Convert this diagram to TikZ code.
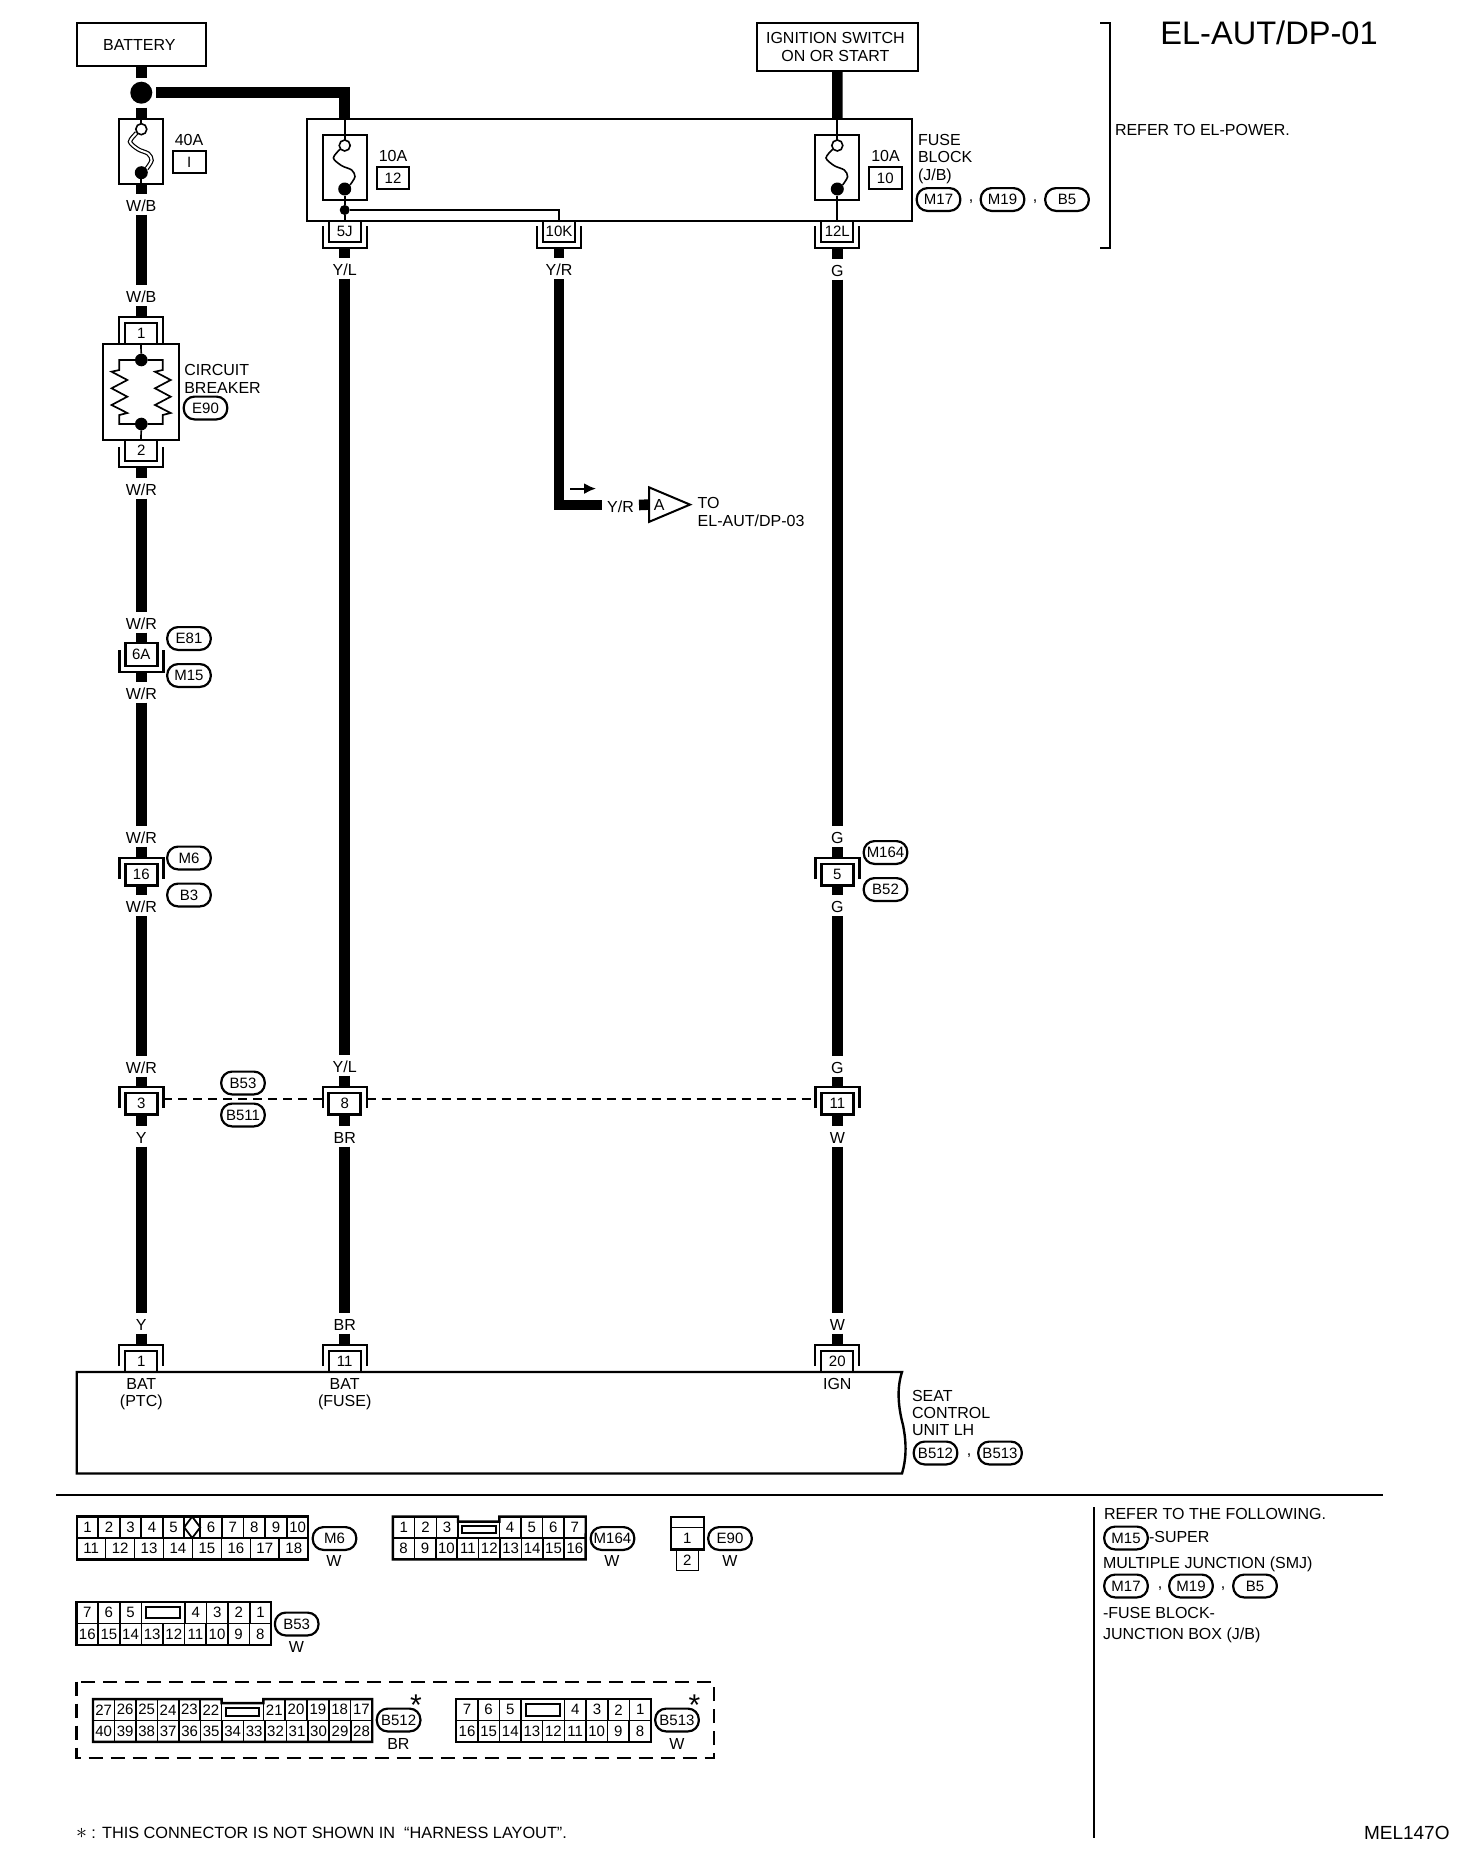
\documentclass[tikz,border=0pt]{standalone}
\usepackage{fontspec}
\setmainfont{Liberation Sans}
\usetikzlibrary{arrows.meta,positioning,shapes.geometric,fit,calc}

% connector with the hood on top
\newcommand{\connfem}[6]{%
  \node[pinbox, minimum height=#4, anchor=north] (#1) at (#2,#3+6) {#6};
  \draw[bracket] (#2-22,#3+#5) -- (#2-22,#3) -- (#2+22,#3) -- (#2+22,#3+#5);
  \coordinate (#1-t) at (#2,#3);
  \coordinate (#1-l) at (#2-22,#3+12);
  \coordinate (#1-r) at (#2+22,#3+12);
}
% connector with the hood below
\newcommand{\connmale}[6]{%
  \node[pinbox, minimum height=#4, anchor=south] (#1) at (#2,#3-6) {#6};
  \draw[bracket] (#2-22,#3-#5) -- (#2-22,#3) -- (#2+22,#3) -- (#2+22,#3-#5);
  \coordinate (#1-b) at (#2,#3);
}
\newcommand{\fusebox}[4]{%
  \node[fusecase, anchor=north] (#1) at (#2,#3) {};
  \draw[#4] plot[smooth] coordinates {(#2-4.7,#3+14.3) (#2-11.3,#3+23) (#2-3,#3+30.7) (#2+7,#3+35) (#2+10.3,#3+41.7) (#2+5.3,#3+50)};
  \node[fuseopen] (#1-a) at (#2,#3+10.5) {};
  \node[fusedot] (#1-b) at (#2,#3+54) {};
}
% row of pin cells, first cell's lower left corner at #2
\newcommand{\pinrow}[4]{%
  \foreach \lab [count=\i, remember=\i as \j (initially 0)] in {#4} {
    \ifnum\i=1
      \node[pincell, minimum width=#3, anchor=south west] (#1\i) at (#2) {\lab};
    \else
      \node[pincell, minimum width=#3, anchor=south west] (#1\i) at (#1\j.south east) {\lab};
    \fi
  }
}

\begin{document}
\begin{tikzpicture}[x=0.5pt, y=-0.5pt,
  every node/.style={outer sep=0pt},
  txt/.style={font=\fontsize{8}{8.6}\selectfont, inner sep=0pt, align=left},
  note/.style={txt, anchor=west},
  wlabel/.style={txt, align=center, minimum height=10.5pt, text height=7pt, text depth=0pt},
  box/.style={draw, line width=1pt, fill=white, inner sep=0pt, align=center, font=\fontsize{8}{8.6}\selectfont},
  bubble/.style={draw, line width=1.1pt, rounded corners=5.4pt, minimum width=21.8pt, minimum height=11.4pt, inner sep=0pt, font=\fontsize{7.5}{8}\selectfont},
  pinbox/.style={draw, line width=1pt, fill=white, minimum width=16pt, inner sep=0pt, font=\fontsize{7.5}{8}\selectfont},
  bracket/.style={line width=1pt},
  wire/.style={line width=5.3pt},
  thinline/.style={line width=0.85pt},
  fusecase/.style={draw, line width=1pt, minimum width=22pt, minimum height=32.5pt, inner sep=0pt},
  fuseopen/.style={circle, draw, line width=0.8pt, fill=white, minimum size=5.5pt, inner sep=0pt},
  fusedot/.style={circle, fill=black, minimum size=6.5pt, inner sep=0pt},
  fuseone/.style={line width=0.8pt},
  fusetwo/.style={line width=0.6pt, double, double distance=1pt},
  rateb/.style={draw, line width=1pt, minimum width=16.3pt, minimum height=11pt, inner sep=0pt, font=\fontsize{7.5}{8}\selectfont},
  pincell/.style={draw, line width=0.8pt, minimum height=10.7pt, inner sep=0pt, font=\fontsize{7.5}{8}\selectfont},
  pingap/.style={draw, line width=0.8pt, inner sep=0pt},
  pinslot/.style={draw, line width=1pt, inner sep=0pt},
  pinframe/.style={draw, line width=1.2pt, inner sep=0pt}
]
  \useasboundingbox (0,0) rectangle (1472,1868);

  % Top boxes
  \node[box, minimum width=64.7pt, minimum height=21.5pt] (batt) at (141.3,44.5) {\kern-2pt BATTERY};
  \node[box, minimum width=80.5pt, minimum height=24pt] (ign) at (837.4,47) {\kern-2pt IGNITION SWITCH\\\kern-2pt ON OR START};
  \node[font=\fontsize{16.3}{18}\selectfont, inner sep=0pt] (title) at (1269,33) {EL-AUT/DP-01};
  \coordinate (brA) at (1100,22.7);
  \coordinate (brB) at (1100,248);
  \draw[thinline] (brA) -- (1110,22.7) -- (1110,248) -- (brB);
  \node[note] (refpower) at (1115,130) {REFER TO EL-POWER.};

  % Fuse block
  \node[draw, line width=1pt, minimum width=302.7pt, minimum height=51pt, anchor=north west] (jblock) at (306.7,118.7) {};
  \coordinate (inB) at (344.7,118.7);
  \coordinate (inC) at (837.3,118.7);
  \node[circle, fill=black, minimum size=11pt, inner sep=0pt, outer sep=2pt] (jct) at (141.3,92.7) {};
  \fusebox{fA}{141.3}{118.7}{fusetwo}
  \fusebox{fB}{344.7}{135}{fuseone}
  \fusebox{fC}{837.3}{135}{fuseone}
  \node[txt] (ratA) at (189,140) {40A};
  \node[rateb] (nA) at (189.3,162) {I};
  \node[txt] (ratB) at (393,156) {10A};
  \node[rateb] (nB) at (393,178) {12};
  \node[txt] (ratC) at (885.5,156.4) {10A};
  \node[rateb] (nC) at (885.3,178) {10};
  \node[note] (fbname) at (918,159) {FUSE\\BLOCK\\(J/B)};
  \node[bubble] (fbM17) at (938.5,199.5) {M17};
  \node[txt] (fbc1) at (971,202) {,};
  \node[bubble] (fbM19) at (1002.5,199.5) {M19};
  \node[txt] (fbc2) at (1035,202) {,};
  \node[bubble] (fbB5) at (1067,199.5) {B5};
  \node[circle, fill=black, minimum size=5pt, inner sep=0pt] (jd) at (344.7,210) {};

  % Block terminals
  \connmale{cJ}{344.7}{248}{10.7pt}{22}{5J}
  \connmale{cK}{559}{248}{10.7pt}{22}{10K}
  \connmale{cL}{837.3}{248}{10.7pt}{22}{12L}
  \draw[thinline] (fA.north) -- (fA-a);
  \draw[thinline] (fA-b) -- (fA.south);
  \draw[thinline] (inB) -- (fB-a);
  \draw[thinline] (fB-b) -- (jd) -- (cJ.north);
  \draw[thinline] (jd) -| (cK.north);
  \draw[thinline] (inC) -- (fC-a);
  \draw[thinline] (fC-b) -- (cL.north);

  % Circuit breaker
  \connfem{cOne}{141.3}{317}{10.5pt}{26}{1}
  \node[draw, line width=1pt, minimum width=38.2pt, minimum height=48pt, anchor=north] (cb) at (141,344) {};
  \node[note] (cbname) at (184.3,379) {CIRCUIT\\BREAKER};
  \node[bubble] (cbE90) at (205.5,408) {E90};
  \node[circle, fill=black, minimum size=6.3pt, inner sep=0pt] (cbt) at (141.3,360) {};
  \node[circle, fill=black, minimum size=6.3pt, inner sep=0pt] (cbb) at (141.3,424) {};
  \draw[thinline] (cb.north) -- (cbt);
  \draw[thinline] (cbb) -- (cb.south);
  \foreach \sx in {119.3,162.7} {
    \draw[thinline] (cbt) -- (\sx,360) -- (\sx,370) -- (\sx-7.7,371.7) -- (\sx+8,380) -- (\sx-7.7,388.3)
      -- (\sx+8,396.7) -- (\sx-7.7,405) -- (\sx+8,413) -- (\sx,415) -- (\sx,424) -- (cbb);
  }
  \connmale{cTwo}{141.3}{467}{10.7pt}{20}{2}

  % Inline connectors
  \begin{scope}[pinbox/.append style={line width=1.4pt}, bracket/.append style={line width=1.2pt}]
    \connmale{cSix}{141.3}{672}{11.5pt}{22}{6A}
    \connfem{cSixteen}{141.3}{858}{10.7pt}{21}{16}
    \connfem{cThree}{141.3}{1087}{10.7pt}{21}{3}
    \connfem{cEight}{344.7}{1087}{10.7pt}{21}{8}
    \connfem{cFive}{837.3}{858}{10.7pt}{21}{5}
    \connfem{cEleven}{837.3}{1087}{10.7pt}{21}{11}
  \end{scope}
  \node[bubble] (bE81) at (189,638.5) {E81};
  \node[bubble] (bM15) at (189,675.5) {M15};
  \node[bubble] (bM6) at (189,858) {M6};
  \node[bubble] (bB3) at (189,895) {B3};
  \node[bubble] (bB53) at (243,1083) {B53};
  \node[bubble] (bB511) at (243,1115) {B511};
  \node[bubble] (bM164) at (885.5,852.5) {M164};
  \node[bubble] (bB52) at (885.5,889.5) {B52};
  \draw[line width=1pt, dash pattern=on 4.5pt off 3pt] (cThree-r) -- (cEight-l);
  \draw[line width=1pt, dash pattern=on 4.5pt off 3pt] (cEight-r) -- (cEleven-l);

  % Seat control unit
  \connfem{cUa}{141.3}{1345}{10.5pt}{21}{1}
  \connfem{cUb}{344.7}{1345}{10.5pt}{21}{11}
  \connfem{cUc}{837.3}{1345}{10.5pt}{21}{20}
  \coordinate (unitA) at (76.7,1372);
  \coordinate (unitB) at (902,1372);
  \coordinate (unitC) at (902,1473.5);
  \coordinate (unitD) at (76.7,1473.5);
  \draw[line width=1.2pt, line join=miter] (unitA) -- (unitB) .. controls (896,1390) and (899,1410) .. (903,1425)
    .. controls (907,1445) and (906,1460) .. (unitC) -- (unitD) -- cycle;
  \node[txt, align=center] (pBat) at (141.3,1394) {BAT\\(PTC)};
  \node[txt, align=center] (pFuse) at (344.7,1394) {BAT\\(FUSE)};
  \node[txt] (pIgn) at (837.3,1384) {IGN};
  \node[note] (unitname) at (912,1413) {SEAT\\CONTROL\\UNIT LH};
  \node[bubble] (uB512) at (935.5,1453) {B512};
  \node[txt] (uc) at (969,1456) {,};
  \node[bubble] (uB513) at (1000,1453) {B513};

  % Wire labels
  \node[wlabel] (lA1) at (141.3,204) {W/B};
  \node[wlabel] (lA2) at (141.3,295.5) {W/B};
  \node[wlabel] (lA3) at (141.3,488) {W/R};
  \node[wlabel] (lA4) at (141.3,622) {W/R};
  \node[wlabel] (lA5) at (141.3,692) {W/R};
  \node[wlabel] (lA6) at (141.3,836) {W/R};
  \node[wlabel] (lA7) at (141.3,905.5) {W/R};
  \node[wlabel] (lA8) at (141.3,1066) {W/R};
  \node[wlabel] (lA9) at (141.3,1136) {Y};
  \node[wlabel] (lA10) at (141.3,1323) {Y};
  \node[wlabel] (lB1) at (344.7,268) {Y/L};
  \node[wlabel] (lB2) at (344.7,1065) {Y/L};
  \node[wlabel] (lB3) at (344.7,1136) {BR};
  \node[wlabel] (lB4) at (344.7,1323) {BR};
  \node[wlabel] (lD1) at (559,268.5) {Y/R};
  \node[wlabel, minimum width=18.5pt] (lD2) at (620.5,505) {Y/R};
  \node[wlabel] (lC1) at (837.3,269) {G};
  \node[wlabel] (lC2) at (837.3,836.5) {G};
  \node[wlabel] (lC3) at (837.3,905.5) {G};
  \node[wlabel] (lC4) at (837.3,1066) {G};
  \node[wlabel] (lC5) at (837.3,1136) {W};
  \node[wlabel] (lC6) at (837.3,1323) {W};

  % Wires
  \draw[wire] (batt.south) -- (jct.north);
  \draw[wire] (jct.east) -| (inB);
  \draw[wire] (jct.south) -- (fA.north);
  \draw[wire] (fA.south) -- (lA1.north);
  \draw[wire] (lA1.south) -- (lA2.north);
  \draw[wire] (lA2.south) -- (cOne-t);
  \draw[wire] (cTwo-b) -- (lA3.north);
  \draw[wire] (lA3.south) -- (lA4.north);
  \draw[wire] (lA4.south) -- (cSix.north);
  \draw[wire] (cSix-b) -- (lA5.north);
  \draw[wire] (lA5.south) -- (lA6.north);
  \draw[wire] (lA6.south) -- (cSixteen-t);
  \draw[wire] (cSixteen.south) -- (lA7.north);
  \draw[wire] (lA7.south) -- (lA8.north);
  \draw[wire] (lA8.south) -- (cThree-t);
  \draw[wire] (cThree.south) -- (lA9.north);
  \draw[wire] (lA9.south) -- (lA10.north);
  \draw[wire] (lA10.south) -- (cUa-t);
  \draw[wire] (cJ-b) -- (lB1.north);
  \draw[wire] (lB1.south) -- (lB2.north);
  \draw[wire] (lB2.south) -- (cEight-t);
  \draw[wire] (cEight.south) -- (lB3.north);
  \draw[wire] (lB3.south) -- (lB4.north);
  \draw[wire] (lB4.south) -- (cUb-t);
  \draw[wire] (cK-b) -- (lD1.north);
  \draw[wire] (lD1.south) |- (lD2.west);
  \draw[wire] (ign.south) -- (inC);
  \draw[wire] (cL-b) -- (lC1.north);
  \draw[wire] (lC1.south) -- (lC2.north);
  \draw[wire] (lC2.south) -- (cFive-t);
  \draw[wire] (cFive.south) -- (lC3.north);
  \draw[wire] (lC3.south) -- (lC4.north);
  \draw[wire] (lC4.south) -- (cEleven-t);
  \draw[wire] (cEleven.south) -- (lC5.north);
  \draw[wire] (lC5.south) -- (lC6.north);
  \draw[wire] (lC6.south) -- (cUc-t);

  % Off page connector
  \node[isosceles triangle, isosceles triangle stretches, draw, line width=1pt, minimum width=17.3pt, minimum height=20.5pt,
    inner sep=0pt, anchor=apex, font=\fontsize{8}{8.6}\selectfont] (tri) at (690,504.6) {A};
  \draw[wire] (lD2.east) -- (tri.lower side);
  \node[note] (toname) at (697.7,512) {TO\\EL-AUT/DP-03};
  \coordinate (flowA) at (570,488.6);
  \coordinate (flowB) at (596,488.6);
  \draw[line width=1pt, -{Latex[length=6pt,width=5.5pt]}] (flowA) -- (flowB);

  % Dividers
  \coordinate (hA) at (56,1495);
  \coordinate (hB) at (1383,1495);
  \coordinate (vA) at (1094,1507);
  \coordinate (vB) at (1094,1838);
  \draw[thinline] (hA) -- (hB);
  \draw[thinline] (vA) -- (vB);

  % Connector M6
  \pinrow{mA}{76.7,1538}{10.75pt}{1,2,3,4,5}
  \node[pincell, minimum width=8pt, anchor=south west] (mG) at (mA5.south east) {};
  \node[diamond, draw, line width=0.9pt, minimum width=8pt, minimum height=10.7pt, inner sep=0pt] (mD) at (mG.center) {};
  \pinrow{mB}{mG.south east}{10.83pt}{6,7,8,9,10}
  \pinrow{mC}{76.7,1559.4}{14.47pt}{11,12,13,14,15,16,17,18}
  \node[pinframe, fit=(mA1)(mC8)] (mF) {};
  \node[bubble] (mN) at (334.5,1538.5) {M6};
  \node[txt] (mW) at (334,1561) {W};

  % Connector M164
  \pinrow{nA}{392.9,1538}{10.85pt}{1,2,3}
  \node[pingap, minimum width=20.65pt, minimum height=8.2pt, anchor=south west] (nG) at (nA3.south east) {};
  \node[pinslot, minimum width=17pt, minimum height=3.5pt] (nS) at (nG.center) {};
  \pinrow{nB}{nG.south east}{10.8pt}{4,5,6,7}
  \pinrow{nC}{392.9,1559.4}{10.71pt}{8,9,10,11,12,13,14,15,16}
  \draw[pinframe] (nA1.north west) -- (nA3.north east) -- (nG.north west) -- (nG.north east) -- (nB1.north west)
    -- (nB4.north east) -- (nC9.south east) -- (nC1.south west) -- cycle;
  \node[bubble] (nN) at (612.5,1538.5) {M164};
  \node[txt] (nW) at (612,1561) {W};

  % Connector E90
  \node[pingap, minimum width=16.7pt, minimum height=5.3pt, anchor=north west] (eG) at (670.7,1516.7) {};
  \node[pincell, minimum width=16.7pt, minimum height=11pt, anchor=north] (eA) at (eG.south) {1};
  \node[pincell, minimum width=11pt, minimum height=10.5pt, anchor=north] (eB) at (eA.south) {2};
  \node[pinframe, fit=(eG)(eA)] (eF) {};
  \node[bubble] (eN) at (730,1538.5) {E90};
  \node[txt] (eW) at (730,1561) {W};

  % Connector B53
  \pinrow{bA}{76.5,1623.3}{10.8pt}{7,6,5}
  \node[pingap, minimum width=21.8pt, minimum height=10.7pt, anchor=south west] (bG) at (bA3.south east) {};
  \node[pinslot, minimum width=17pt, minimum height=5.8pt] (bS) at (bG.center) {};
  \pinrow{bB}{bG.south east}{10.8pt}{4,3,2,1}
  \pinrow{bC}{76.5,1644.7}{10.81pt}{16,15,14,13,12,11,10,9,8}
  \node[pinframe, fit=(bA1)(bC9)] (bF) {};
  \node[bubble] (bN) at (296.7,1624) {B53};
  \node[txt] (bW) at (296.5,1647) {W};

  % Connectors B512 and B513
  \coordinate (dashA) at (76.5,1681.7);
  \coordinate (dashB) at (713.8,1757.7);
  \draw[line width=1.2pt, dash pattern=on 7pt off 4pt] (dashA) rectangle (dashB);
  \pinrow{pA}{93,1720.5}{10.72pt}{27,26,25,24,23,22}
  \node[pingap, minimum width=20.9pt, minimum height=8.7pt, anchor=south west] (pG) at (pA6.south east) {};
  \node[pinslot, minimum width=16.7pt, minimum height=4pt] (pS) at (pG.center) {};
  \pinrow{pB}{pG.south east}{10.88pt}{21,20,19,18,17}
  \pinrow{pC}{93,1741.9}{10.74pt}{40,39,38,37,36,35,34,33,32,31,30,29,28}
  \draw[pinframe] (pA1.north west) -- (pA6.north east) -- (pG.north west) -- (pG.north east) -- (pB1.north west)
    -- (pB5.north east) -- (pC13.south east) -- (pC1.south west) -- cycle;
  \node[bubble] (pN) at (398.6,1720) {B512};
  \node[txt] (pW) at (398.4,1744) {BR};
  \node[txt, font=\fontsize{15}{15}\selectfont] (pT) at (416,1705) {*};
  \pinrow{qA}{456.2,1720.5}{10.8pt}{7,6,5}
  \node[pingap, minimum width=21.8pt, minimum height=10.7pt, anchor=south west] (qG) at (qA3.south east) {};
  \node[pinslot, minimum width=17pt, minimum height=6pt] (qS) at (qG.center) {};
  \pinrow{qB}{qG.south east}{10.8pt}{4,3,2,1}
  \pinrow{qC}{456.2,1741.9}{10.81pt}{16,15,14,13,12,11,10,9,8}
  \node[pinframe, fit=(qA1)(qC9)] (qF) {};
  \node[bubble] (qN) at (677,1720) {B513};
  \node[txt] (qW) at (677,1744) {W};
  \node[txt, font=\fontsize{15}{15}\selectfont] (qT) at (694.5,1705) {*};

  % Notes
  \node[note, font=\fontsize{8.15}{9}\selectfont] (fnote) at (76,1833) {{\fontsize{11}{11}\selectfont$\ast$} : THIS CONNECTOR IS NOT SHOWN IN \ ``HARNESS LAYOUT''.};
  \node[note, font=\fontsize{9.5}{10}\selectfont] (mel) at (1364,1833) {MEL147O};
  \node[note] (rA) at (1104,1514) {REFER TO THE FOLLOWING.};
  \node[bubble] (rM15) at (1126,1538) {M15};
  \node[note] (rB) at (1149,1537) {-SUPER};
  \node[note] (rC) at (1103,1564) {MULTIPLE JUNCTION (SMJ)};
  \node[bubble] (rM17) at (1126,1586) {M17};
  \node[txt] (rc1) at (1160,1589) {,};
  \node[bubble] (rM19) at (1191,1586) {M19};
  \node[txt] (rc2) at (1223,1589) {,};
  \node[bubble] (rB5) at (1255,1586) {B5};
  \node[note] (rD) at (1103,1613) {-FUSE BLOCK-};
  \node[note] (rE) at (1103,1635) {JUNCTION BOX (J/B)};
\end{tikzpicture}
\end{document}
